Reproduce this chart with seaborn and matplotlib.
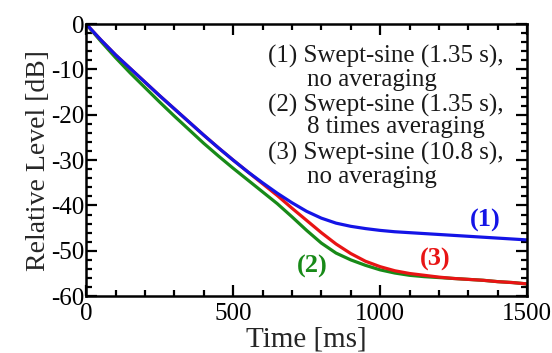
import numpy as np
import pandas as pd
import matplotlib
matplotlib.use("Agg")
import matplotlib.pyplot as plt
from matplotlib.ticker import MultipleLocator
import seaborn as sns

time_ms = [0, 50, 100, 150, 200, 250, 300, 350, 400, 450, 500, 550, 600, 650, 700, 750,
           800, 850, 900, 950, 1000, 1050, 1100, 1150, 1200, 1250, 1300, 1350, 1400, 1450, 1500]
level_1 = [0, -3.5, -6.8, -9.8, -12.8, -15.8, -18.7, -21.6, -24.5, -27.3, -30.0, -32.6, -35.0, -37.3,
           -39.4, -41.3, -42.8, -43.9, -44.6, -45.1, -45.5, -45.8, -46.0, -46.2, -46.4, -46.6,
           -46.8, -47.0, -47.2, -47.4, -47.6]
level_2 = [0, -3.8, -7.4, -10.8, -14.0, -17.2, -20.3, -23.3, -26.3, -29.1, -31.8, -34.4, -37.0, -39.6,
           -42.5, -45.5, -48.3, -50.5, -52.0, -53.2, -54.2, -54.9, -55.4, -55.7, -55.9, -56.1,
           -56.3, -56.5, -56.8, -57.0, -57.3]
level_3 = [0, -3.5, -6.8, -9.8, -12.8, -15.8, -18.7, -21.6, -24.5, -27.3, -30.0, -32.6, -35.2, -37.8,
           -40.6, -43.3, -46.0, -48.5, -50.6, -52.3, -53.5, -54.4, -55.0, -55.4, -55.8, -56.1,
           -56.3, -56.5, -56.8, -57.0, -57.3]

series_names = ["(1)", "(2)", "(3)"]
legend_lines = ["(1) Swept-sine (1.35 s),", "no averaging",
                "(2) Swept-sine (1.35 s),", "8 times averaging",
                "(3) Swept-sine (10.8 s),", "no averaging"]
colors = {"(1)": "#1414e6", "(2)": "#188a18", "(3)": "#e81414"}

df = pd.concat([
    pd.DataFrame({"Time": time_ms, "Level": level_1, "series": "(1)"}),
    pd.DataFrame({"Time": time_ms, "Level": level_2, "series": "(2)"}),
    pd.DataFrame({"Time": time_ms, "Level": level_3, "series": "(3)"}),
])

sns.set_style("ticks")
plt.rcParams["font.family"] = ["Liberation Serif", "DejaVu Serif"]
plt.rcParams["axes.unicode_minus"] = False

fig = plt.figure(figsize=(5.52, 3.53), dpi=100)
ax = fig.add_axes([0.156, 0.161, 0.799, 0.771])

sns.lineplot(data=df, x="Time", y="Level", hue="series", hue_order=["(2)", "(3)", "(1)"],
             palette=colors, linewidth=2.3, ax=ax, legend=False)

ax.set_xlim(0, 1500)
ax.set_ylim(-60, 0)
ax.xaxis.set_major_locator(MultipleLocator(500))
ax.xaxis.set_minor_locator(MultipleLocator(100))
ax.yaxis.set_major_locator(MultipleLocator(10))
ax.yaxis.set_minor_locator(MultipleLocator(2))
ax.tick_params(which="both", direction="in", top=True, right=True, width=1.6, colors="black")
ax.tick_params(which="major", length=8, labelsize=18)
ax.tick_params(axis="x", which="major", pad=5)
ax.tick_params(axis="y", which="major", pad=1)
ax.tick_params(which="minor", length=4.5)
for s in ax.spines.values():
    s.set_linewidth(1.8)
    s.set_color("black")

ax.set_xlabel("Time [ms]", fontsize=21, labelpad=1)
ax.set_ylabel("Relative Level [dB]", fontsize=20, labelpad=0)

# legend-like text block
text_x = [619, 752, 619, 752, 619, 752]
text_y = [-7.1, -12.4, -17.9, -22.7, -28.5, -33.8]
for tx, ty, s in zip(text_x, text_y, legend_lines):
    ax.text(tx, ty, s, fontsize=18, va="center", ha="left", color="#1a1a1a")

label_pos = {"(1)": (1357, -43.2), "(2)": (769, -53.4), "(3)": (1187, -52.0)}
for name in series_names:
    x, y = label_pos[name]
    ax.text(x, y, name, fontsize=19, fontweight="bold", color=colors[name], ha="center", va="center")

fig.savefig("out.png", dpi=100)
